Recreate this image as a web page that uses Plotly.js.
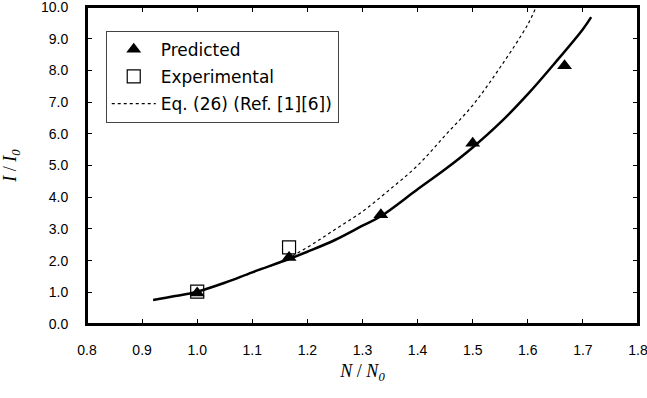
<!DOCTYPE html>
<html><head><meta charset="utf-8">
<script src="https://cdn.plot.ly/plotly-3.0.1.min.js"></script>
<style>html,body{margin:0;padding:0;background:#fff;overflow:hidden}</style>
</head><body>
<div id="chart" style="width:647px;height:398px"></div>
<script>
var predX = [1.0, 1.1667, 1.3333, 1.5, 1.6667];
var predY = [0.98, 2.1, 3.45, 5.7, 8.15];
var expX = [1.0, 1.1667];
var expY = [1.02, 2.42];
var fitX = [0.92, 0.96, 1.0, 1.05, 1.1, 1.1667, 1.2, 1.25, 1.3, 1.3333, 1.4, 1.45, 1.5, 1.55, 1.6, 1.65, 1.7, 1.715];
var fitY = [0.76, 0.88, 1.02, 1.3, 1.63, 2.05, 2.28, 2.65, 3.1, 3.4, 4.25, 4.88, 5.57, 6.35, 7.25, 8.25, 9.3, 9.68];
var eqX = [1.0, 1.05, 1.1, 1.15, 1.2, 1.25, 1.3, 1.35, 1.4, 1.45, 1.5, 1.55, 1.6, 1.615];
var eqY = [1.0, 1.3, 1.63, 1.95, 2.42, 2.98, 3.55, 4.25, 5.0, 5.95, 6.9, 8.1, 9.45, 10.0];
var xTicks = [0.8, 0.9, 1.0, 1.1, 1.2, 1.3, 1.4, 1.5, 1.6, 1.7, 1.8];
var yTicks = [0, 1, 2, 3, 4, 5, 6, 7, 8, 9, 10];
var xRange = [0.8, 1.8];
var yRange = [0, 10];

var traces = [
  {x: fitX, y: fitY, mode: 'lines', line: {color: '#000', width: 2.5, shape: 'spline'}, showlegend: false, hoverinfo: 'skip'},
  {x: eqX, y: eqY, mode: 'lines', name: 'Eq. (26) (Ref. [1][6])', legendgroup: 'c', line: {color: '#000', width: 1.2, dash: 'dot', shape: 'spline'}, legendrank: 3},
  {x: predX, y: predY, mode: 'markers', name: 'Predicted', legendgroup: 'a', marker: {symbol: 'triangle-up', size: 13, color: '#000'}, legendrank: 1},
  {x: expX, y: expY, mode: 'markers', name: 'Experimental', legendgroup: 'b', marker: {symbol: 'square-open', size: 13, color: '#000', line: {width: 1.2, color: '#000'}}, legendrank: 2}
];

var axisCommon = {
  showline: true, linecolor: '#000', linewidth: 2, mirror: 'allticks',
  ticks: 'inside', ticklen: 5, tickwidth: 1, tickcolor: '#000',
  showgrid: false, zeroline: false, ticklabeloverflow: 'allow',
  tickfont: {family: 'Liberation Sans, Arial, sans-serif', size: 14, color: '#000'}
};

var layout = {
  width: 647, height: 398,
  margin: {l: 87, r: 9, t: 7, b: 74},
  paper_bgcolor: '#fff', plot_bgcolor: '#fff',
  xaxis: Object.assign({}, axisCommon, {
    range: xRange, tickvals: xTicks, ticktext: xTicks.map(function(v){return v.toFixed(1);}),
    ticklabelstandoff: 12,
    title: {text: '<i>N</i> / <i>N</i><sub><i>0</i></sub>', font: {family: 'Liberation Serif, Times New Roman, serif', size: 18, color: '#000'}, standoff: 8}
  }),
  yaxis: Object.assign({}, axisCommon, {
    range: yRange, tickvals: yTicks, ticktext: yTicks.map(function(v){return v.toFixed(1);}),
    ticklabelstandoff: 14,
    title: {text: '<i>I</i> / <i>I</i><sub><i>0</i></sub>', font: {family: 'Liberation Serif, Times New Roman, serif', size: 18, color: '#000'}, standoff: 23}
  }),
  shapes: [
    {type: 'rect', xref: 'paper', yref: 'paper', x0: 0, x1: 1, y0: 0, y1: 1, line: {color: '#000', width: 2}, fillcolor: 'rgba(0,0,0,0)', layer: 'above'}
  ],
  legend: {
    x: 0.034, y: 0.925, xanchor: 'left', yanchor: 'top',
    bgcolor: '#fff', bordercolor: '#444', borderwidth: 1,
    font: {family: 'DejaVu Sans, sans-serif', size: 17, color: '#000'},
    traceorder: 'grouped', tracegroupgap: 2, itemwidth: 44
  },
  showlegend: true
};

Plotly.newPlot('chart', traces, layout, {displayModeBar: false, staticPlot: true});
</script>
</body></html>
